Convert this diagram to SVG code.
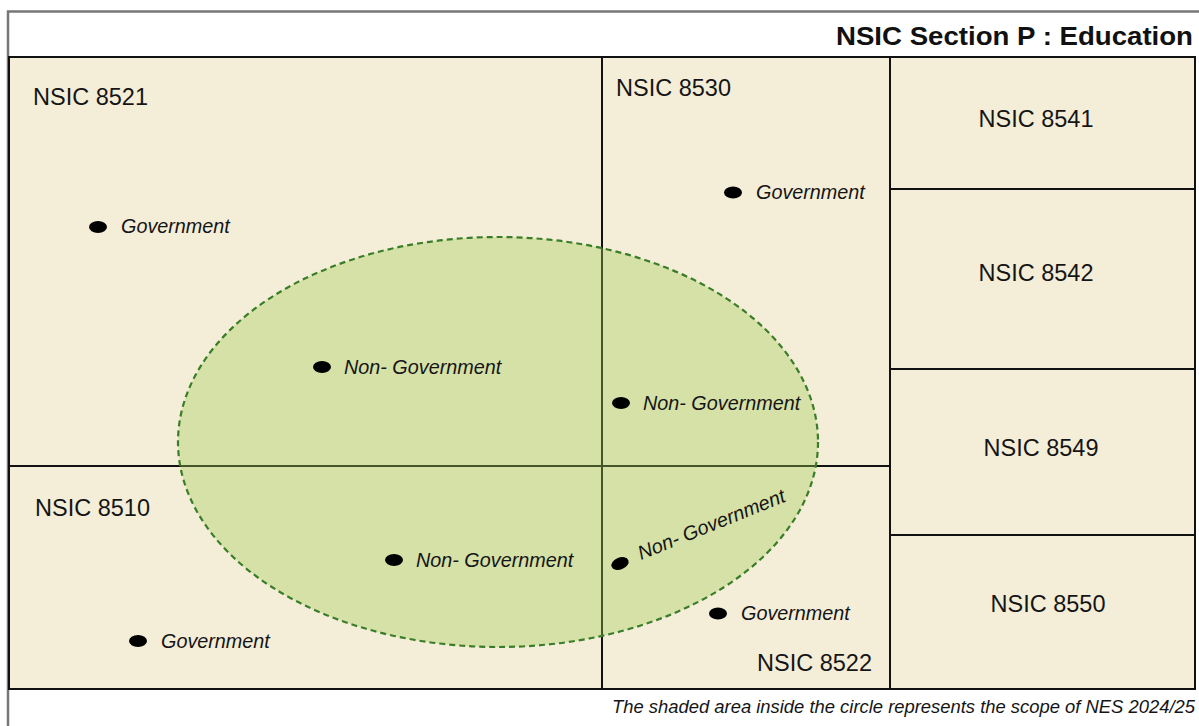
<svg xmlns="http://www.w3.org/2000/svg" width="1199" height="726" viewBox="0 0 1199 726">
  <style>
    .cell { fill: #f4edd8; stroke: #111; stroke-width: 2; }
    .code { font-family: "Liberation Sans", Arial, sans-serif; font-size: 23.5px; fill: #151515; }
    .lbl { font-family: "Liberation Sans", Arial, sans-serif; font-size: 19.8px; font-style: italic; fill: #151515; }
    .dot { fill: #000; }
  </style>
  <rect x="0" y="0" width="1199" height="726" fill="#fff"/>

  <!-- outer frame -->
  <g id="frame">
    <path d="M8 726 V11.5 H1199" fill="none" stroke="#777" stroke-width="2.5"/>
    <text x="1193" y="45" text-anchor="end" textLength="357" lengthAdjust="spacingAndGlyphs" font-family="Liberation Sans, Arial, sans-serif" font-size="25" font-weight="bold" fill="#111">NSIC Section P : Education</text>
  </g>

  <!-- class cells -->
  <g id="cells">
    <rect class="cell" x="9" y="57" width="1186" height="632"/>
    <line x1="602" y1="57" x2="602" y2="689" stroke="#111" stroke-width="2"/>
    <line x1="9" y1="466" x2="890" y2="466" stroke="#111" stroke-width="2"/>
    <line x1="890" y1="57" x2="890" y2="689" stroke="#111" stroke-width="2"/>
    <line x1="890" y1="189" x2="1195" y2="189" stroke="#111" stroke-width="2"/>
    <line x1="890" y1="369" x2="1195" y2="369" stroke="#111" stroke-width="2"/>
    <line x1="890" y1="535" x2="1195" y2="535" stroke="#111" stroke-width="2"/>
  </g>

  <!-- survey scope -->
  <g id="scope">
    <ellipse cx="498" cy="442" rx="320" ry="205" fill="#a1cd53" fill-opacity="0.37" stroke="#3a7d28" stroke-width="2.2" stroke-dasharray="6 4"/>
  </g>

  <g id="nsic-8521">
    <text class="code" x="33" y="105">NSIC 8521</text>
    <ellipse class="dot" cx="98" cy="227" rx="9" ry="6"/>
    <text class="lbl" x="121" y="233">Government</text>
    <ellipse class="dot" cx="322" cy="367" rx="9" ry="6"/>
    <text class="lbl" x="344" y="374">Non- Government</text>
  </g>

  <g id="nsic-8530">
    <text class="code" x="616" y="96">NSIC 8530</text>
    <ellipse class="dot" cx="733" cy="192.5" rx="9" ry="6"/>
    <text class="lbl" x="756" y="199">Government</text>
    <ellipse class="dot" cx="621" cy="403" rx="9" ry="6"/>
    <text class="lbl" x="643" y="410">Non- Government</text>
  </g>

  <g id="nsic-8510">
    <text class="code" x="35" y="516">NSIC 8510</text>
    <ellipse class="dot" cx="394" cy="560" rx="9" ry="6"/>
    <text class="lbl" x="416" y="567">Non- Government</text>
    <ellipse class="dot" cx="138" cy="641" rx="9" ry="6"/>
    <text class="lbl" x="161" y="648">Government</text>
  </g>

  <g id="nsic-8522">
    <ellipse class="dot" cx="620" cy="563.5" rx="9" ry="6" transform="rotate(-22 620 563.5)"/>
    <text class="lbl" x="641" y="560" transform="rotate(-22 641 560)">Non- Government</text>
    <ellipse class="dot" cx="718" cy="613.5" rx="9" ry="6"/>
    <text class="lbl" x="741" y="620">Government</text>
    <text class="code" x="757" y="671">NSIC 8522</text>
  </g>

  <g id="nsic-8541"><text class="code" x="1036" y="127" text-anchor="middle">NSIC 8541</text></g>
  <g id="nsic-8542"><text class="code" x="1036" y="281" text-anchor="middle">NSIC 8542</text></g>
  <g id="nsic-8549"><text class="code" x="1041" y="456" text-anchor="middle">NSIC 8549</text></g>
  <g id="nsic-8550"><text class="code" x="1048" y="612" text-anchor="middle">NSIC 8550</text></g>

  <g id="note">
    <text x="1195" y="713" text-anchor="end" textLength="583" lengthAdjust="spacingAndGlyphs" font-family="Liberation Sans, Arial, sans-serif" font-size="18" font-style="italic" fill="#151515">The shaded area inside the circle represents the scope of NES 2024/25</text>
  </g>

  <!-- connectors: none in this layout -->
  <g id="connectors"/>
</svg>
